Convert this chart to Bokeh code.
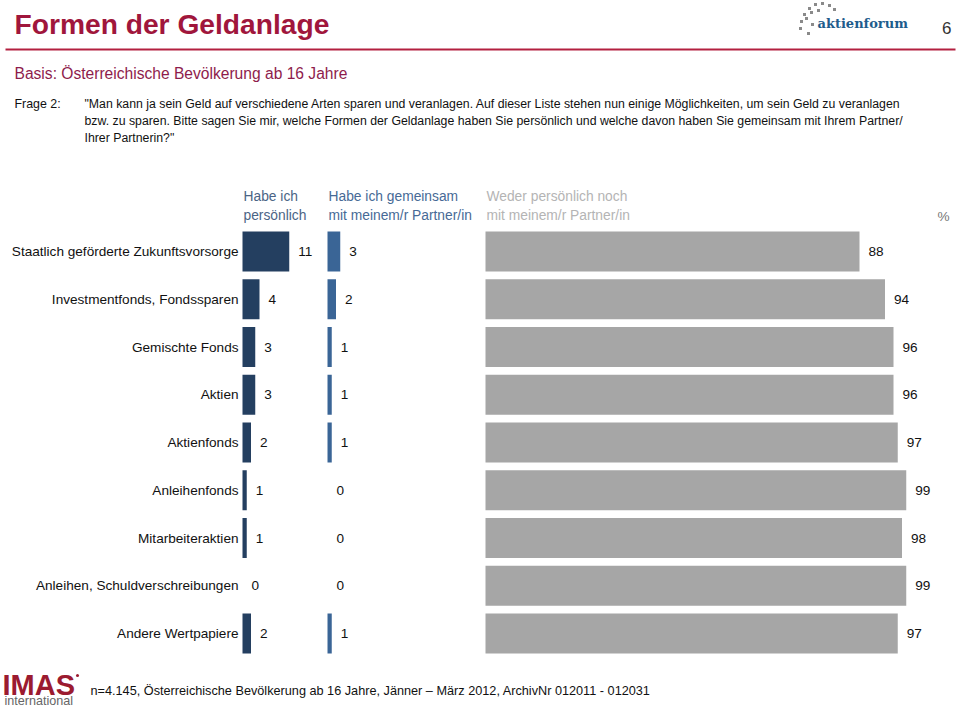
from bokeh.plotting import figure
from bokeh.models import Range1d, ColumnDataSource
from bokeh.core.properties import value
from bokeh.embed import file_html
from bokeh.resources import INLINE

# ---------------- data ----------------
categories = [
    "Staatlich geförderte Zukunftsvorsorge",
    "Investmentfonds, Fondssparen",
    "Gemischte Fonds",
    "Aktien",
    "Aktienfonds",
    "Anleihenfonds",
    "Mitarbeiteraktien",
    "Anleihen, Schuldverschreibungen",
    "Andere Wertpapiere",
]
persoenlich = [11, 4, 3, 3, 2, 1, 1, 0, 2]
gemeinsam = [3, 2, 1, 1, 1, 0, 0, 0, 1]
weder = [88, 94, 96, 96, 97, 99, 98, 99, 97]
series_labels = [
    ["Habe ich", "persönlich"],
    ["Habe ich gemeinsam", "mit meinem/r Partner/in"],
    ["Weder persönlich noch", "mit meinem/r Partner/in"],
]
title = "Formen der Geldanlage"
basis = "Basis: Österreichische Bevölkerung ab 16 Jahre"
frage_label = "Frage 2:"
frage_lines = [
    "\"Man kann ja sein Geld auf verschiedene Arten sparen und veranlagen. Auf dieser Liste stehen nun einige Möglichkeiten, um sein Geld zu veranlagen",
    "bzw. zu sparen. Bitte sagen Sie mir, welche Formen der Geldanlage haben Sie persönlich und welche davon haben Sie gemeinsam mit Ihrem Partner/",
    "Ihrer Partnerin?\"",
]
footer = "n=4.145, Österreichische Bevölkerung ab 16 Jahre, Jänner – März 2012, ArchivNr 012011 - 012031"
page_no = "6"

# ---------------- layout ----------------
FONT = value("Liberation Sans")
W, H = 956, 707
PX_PER_PCT = 4.25
ROW0, ROW_STEP, BAR_H = 251, 47.75, 40
COL_START = [242, 327, 485]
COL_COLORS = ["#243F60", "#3A6596", "#A6A6A6"]
HEAD_COLORS = ["#4B6485", "#476A96", "#B4B4B4"]

p = figure(width=W, height=H, output_backend="svg", toolbar_location=None,
           x_range=Range1d(0, W), y_range=Range1d(H, 0),
           min_border=0)
p.axis.visible = False
p.grid.visible = False
p.outline_line_color = None
p.background_fill_color = "white"

n = len(categories)
rows = [ROW0 + i * ROW_STEP for i in range(n)]

for k, vals in enumerate([persoenlich, gemeinsam, weder]):
    x0 = COL_START[k]
    src = ColumnDataSource(dict(
        y=rows,
        left=[x0] * n,
        right=[x0 + v * PX_PER_PCT for v in vals],
        lx=[x0 + v * PX_PER_PCT + 9 for v in vals],
        txt=[str(v) for v in vals],
    ))
    p.hbar(y="y", left="left", right="right", height=BAR_H, source=src,
           fill_color=COL_COLORS[k], line_color=None)
    p.text(x="lx", y="y", text="txt", source=src, text_font=FONT,
           text_font_size="13.6px", text_baseline="middle", text_align="left",
           text_color="#111111")
    # headers
    p.text(x=[x0 + 1, x0 + 1], y=[196, 215], text=series_labels[k],
           text_font=FONT, text_font_size="13.8px", text_baseline="middle",
           text_align="left", text_color=HEAD_COLORS[k])

p.text(x=[949], y=[216], text=["%"], text_font=FONT, text_font_size="13.6px",
       text_baseline="middle", text_align="right", text_color="#777777")

# category labels
p.text(x=[238] * n, y=rows, text=categories, text_font=FONT,
       text_font_size="13.6px", text_baseline="middle", text_align="right",
       text_color="#111111")

# title area
p.text(x=[14], y=[23], text=[title], text_font=FONT, text_font_size="28.2px",
       text_font_style="bold", text_baseline="middle", text_color="#A0163C")
p.segment(x0=[5], y0=[49], x1=[955], y1=[49], line_color="#B32040", line_width=2)
p.text(x=[14], y=[73], text=[basis], text_font=FONT, text_font_size="15.6px",
       text_baseline="middle", text_color="#8E1C4C")
p.text(x=[14], y=[103], text=[frage_label], text_font=FONT, text_font_size="12.4px",
       text_baseline="middle", text_color="#111111")
p.text(x=[84] * 3, y=[103, 120, 137], text=frage_lines, text_font=FONT,
       text_font_size="12.3px", text_baseline="middle", text_color="#111111")
p.text(x=[951], y=[27], text=[page_no], text_font=FONT, text_font_size="17px",
       text_baseline="middle", text_align="right", text_color="#333333")

# aktienforum logo
p.text(x=[817], y=[23], text=["aktienforum"], text_font=value("DejaVu Serif"),
       text_font_size="13px", text_font_style="bold", text_baseline="middle",
       text_color="#1E5C8C")
dots_x = [800, 801, 804, 809, 815, 822, 829, 834, 806, 811, 818, 812, 808]
dots_y = [28, 21, 14, 8, 4, 3, 5, 9, 18, 12, 10, 24, 33]
p.scatter(x=dots_x, y=dots_y, size=3, marker="square", fill_color="#8A8A8A",
          line_color=None)

# IMAS logo
p.text(x=[2], y=[684], text=["IMAS"], text_font=FONT, text_font_size="29px",
       text_font_style="bold", text_baseline="middle", text_color="#9B1B30")
p.scatter(x=[77], y=[675], size=3, fill_color="#9B1B30", line_color=None)
p.text(x=[4], y=[700], text=["international"], text_font=FONT,
       text_font_size="12.6px", text_baseline="middle", text_color="#666666")
p.text(x=[90], y=[690], text=[footer], text_font=FONT, text_font_size="12.7px",
       text_baseline="middle", text_color="#111111")

open("out.html", "w").write(file_html(p, INLINE))
